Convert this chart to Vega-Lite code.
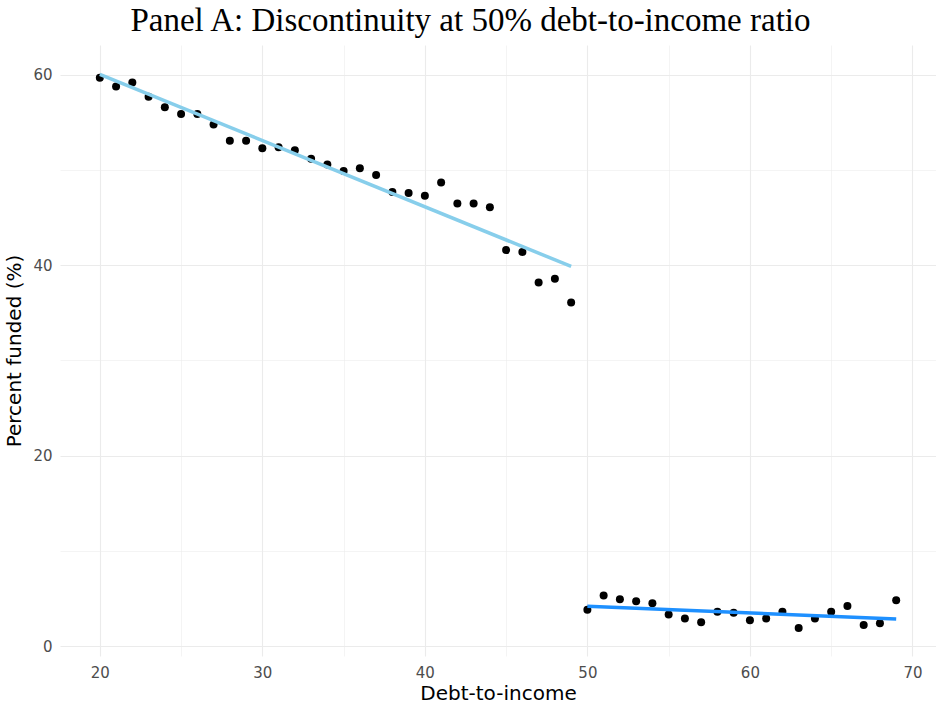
{
  "$schema": "https://vega.github.io/schema/vega-lite/v6.json",
  "autosize": "none",
  "width": 876,
  "height": 611,
  "padding": {"left": 60, "top": 45, "right": 0, "bottom": 50},
  "background": "white",
  "title": {
    "text": "Panel A: Discontinuity at 50% debt-to-income ratio",
    "font": "Liberation Serif",
    "fontSize": 33,
    "fontWeight": "normal",
    "color": "black",
    "anchor": "middle",
    "frame": "bounds",
    "offset": 7
  },
  "config": {
    "view": {"stroke": null},
    "axis": {
      "domain": false,
      "ticks": false,
      "gridColor": "#EBEBEB",
      "labelFont": "DejaVu Sans",
      "labelFontSize": 15,
      "labelColor": "#4D4D4D",
      "titleFont": "DejaVu Sans",
      "titleFontSize": 20,
      "titleFontWeight": "normal",
      "titleColor": "black"
    }
  },
  "data": {
    "values": [
      {"dti": 20, "pct": 59.7, "side": "below"},
      {"dti": 21, "pct": 58.8, "side": "below"},
      {"dti": 22, "pct": 59.2, "side": "below"},
      {"dti": 23, "pct": 57.7, "side": "below"},
      {"dti": 24, "pct": 56.6, "side": "below"},
      {"dti": 25, "pct": 55.9, "side": "below"},
      {"dti": 26, "pct": 55.9, "side": "below"},
      {"dti": 27, "pct": 54.8, "side": "below"},
      {"dti": 28, "pct": 53.1, "side": "below"},
      {"dti": 29, "pct": 53.1, "side": "below"},
      {"dti": 30, "pct": 52.3, "side": "below"},
      {"dti": 31, "pct": 52.4, "side": "below"},
      {"dti": 32, "pct": 52.1, "side": "below"},
      {"dti": 33, "pct": 51.2, "side": "below"},
      {"dti": 34, "pct": 50.6, "side": "below"},
      {"dti": 35, "pct": 49.9, "side": "below"},
      {"dti": 36, "pct": 50.2, "side": "below"},
      {"dti": 37, "pct": 49.5, "side": "below"},
      {"dti": 38, "pct": 47.7, "side": "below"},
      {"dti": 39, "pct": 47.6, "side": "below"},
      {"dti": 40, "pct": 47.3, "side": "below"},
      {"dti": 41, "pct": 48.7, "side": "below"},
      {"dti": 42, "pct": 46.5, "side": "below"},
      {"dti": 43, "pct": 46.5, "side": "below"},
      {"dti": 44, "pct": 46.1, "side": "below"},
      {"dti": 45, "pct": 41.6, "side": "below"},
      {"dti": 46, "pct": 41.4, "side": "below"},
      {"dti": 47, "pct": 38.2, "side": "below"},
      {"dti": 48, "pct": 38.6, "side": "below"},
      {"dti": 49, "pct": 36.1, "side": "below"},
      {"dti": 50, "pct": 3.8, "side": "above"},
      {"dti": 51, "pct": 5.3, "side": "above"},
      {"dti": 52, "pct": 4.9, "side": "above"},
      {"dti": 53, "pct": 4.7, "side": "above"},
      {"dti": 54, "pct": 4.5, "side": "above"},
      {"dti": 55, "pct": 3.3, "side": "above"},
      {"dti": 56, "pct": 2.9, "side": "above"},
      {"dti": 57, "pct": 2.5, "side": "above"},
      {"dti": 58, "pct": 3.6, "side": "above"},
      {"dti": 59, "pct": 3.5, "side": "above"},
      {"dti": 60, "pct": 2.7, "side": "above"},
      {"dti": 61, "pct": 2.9, "side": "above"},
      {"dti": 62, "pct": 3.6, "side": "above"},
      {"dti": 63, "pct": 1.9, "side": "above"},
      {"dti": 64, "pct": 2.9, "side": "above"},
      {"dti": 65, "pct": 3.6, "side": "above"},
      {"dti": 66, "pct": 4.2, "side": "above"},
      {"dti": 67, "pct": 2.2, "side": "above"},
      {"dti": 68, "pct": 2.4, "side": "above"},
      {"dti": 69, "pct": 4.8, "side": "above"}
    ]
  },
  "encoding": {
    "x": {
      "field": "dti",
      "type": "quantitative",
      "scale": {"domain": [17.55, 71.45], "nice": false, "zero": false},
      "axis": {
        "title": "Debt-to-income",
        "values": [20, 25, 30, 35, 40, 45, 50, 55, 60, 65, 70],
        "labelExpr": "datum.value % 10 === 0 ? datum.label : ''",
        "gridWidth": {"condition": {"test": "datum.value % 10 === 0", "value": 1.1}, "value": 0.55},
        "labelPadding": 9,
        "titlePadding": 3
      }
    },
    "y": {
      "field": "pct",
      "type": "quantitative",
      "scale": {"domain": [-1.05, 63.15], "nice": false, "zero": false},
      "axis": {
        "title": "Percent funded (%)",
        "values": [0, 10, 20, 30, 40, 50, 60],
        "labelExpr": "datum.value % 20 === 0 ? datum.label : ''",
        "gridWidth": {"condition": {"test": "datum.value % 20 === 0", "value": 1.1}, "value": 0.55},
        "labelPadding": 8,
        "titlePadding": 8
      }
    }
  },
  "layer": [
    {
      "mark": {"type": "point", "filled": true, "size": 64, "color": "black", "opacity": 1}
    },
    {
      "transform": [
        {"regression": "pct", "on": "dti", "groupby": ["side"], "method": "linear"}
      ],
      "mark": {"type": "line", "strokeWidth": 3.5},
      "encoding": {
        "color": {
          "field": "side",
          "type": "nominal",
          "scale": {"domain": ["below", "above"], "range": ["#87CEEB", "#1E90FF"]},
          "legend": null
        },
        "detail": {"field": "side"}
      }
    }
  ]
}
